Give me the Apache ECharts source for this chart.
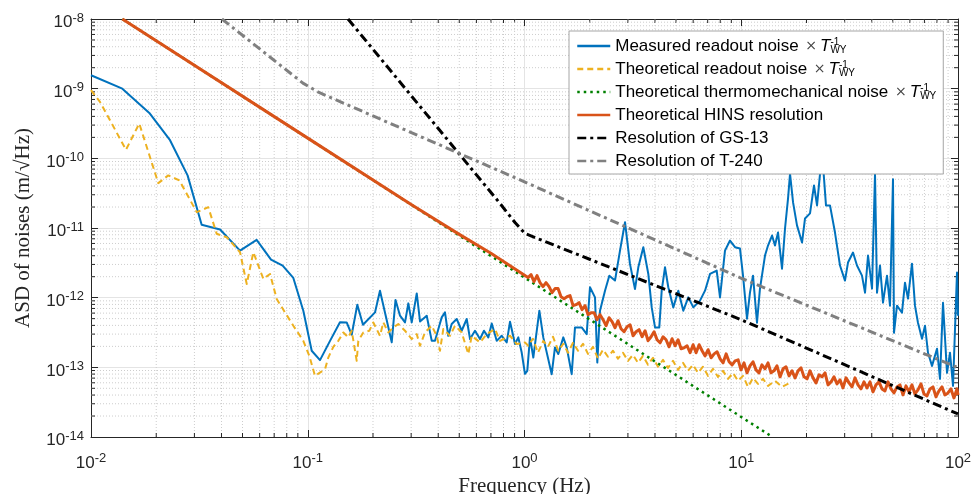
<!DOCTYPE html>
<html>
<head>
<meta charset="utf-8">
<script src="https://cdn.jsdelivr.net/npm/echarts@6.0.0/dist/echarts.min.js"></script>
<style>
  html, body { margin: 0; padding: 0; background: #fff; }
  #chart { width: 973px; height: 494px; }
</style>
</head>
<body>
<div id="chart"></div>
<script>
// axis ranges (log10 decades)
var X_MIN = 0.01, X_MAX = 100;
var Y_MIN = 1e-14, Y_MAX = 1e-8;
var xDecades = [-2, -1, 0, 1];
var yDecades = [-14, -13, -12, -11, -10, -9];
var minorSteps = [2, 3, 4, 5, 6, 7, 8, 9];

// [frequency (Hz), ASD (m/sqrt(Hz))]
var measuredNoise = [
  [0.01,1.56e-9],[0.01395,1.0e-9],[0.01858,4.49e-10],[0.02315,1.82e-10],[0.0279,5.69e-11],[0.0324,1.11e-11],
  [0.0394,9.5e-12],[0.0487,4.74e-12],[0.0581,6.76e-12],[0.0677,3.52e-12],[0.0766,2.88e-12],[0.0858,1.92e-12],
  [0.0954,6.5e-13],[0.1043,1.73e-13],[0.1139,1.27e-13],[0.1267,2.4e-13],[0.1408,4.44e-13],[0.1512,4.41e-13],
  [0.1595,2.94e-13],[0.1693,7.93e-13],[0.1798,4.09e-13],[0.2043,6.14e-13],[0.2154,1.26e-12],[0.2313,4.78e-13],
  [0.244,2.28e-13],[0.2541,9.27e-13],[0.2665,5.51e-13],[0.281,4.41e-13],[0.2911,8.28e-13],[0.3018,4.41e-13],
  [0.3183,1.15e-12],[0.3296,4.56e-13],[0.3539,5.51e-13],[0.3733,2.4e-13],[0.3865,2.4e-13],[0.4045,3.95e-13],
  [0.415,5.21e-13],[0.4297,6.14e-13],[0.445,2.84e-13],[0.4614,4.19e-13],[0.4866,4.94e-13],[0.5131,3.35e-13],
  [0.5412,4.94e-13],[0.5607,2.55e-13],[0.5911,3.35e-13],[0.6233,2.55e-13],[0.6503,3.35e-13],[0.6808,2.69e-13],
  [0.7061,4.27e-13],[0.7444,2.4e-13],[0.785,2.84e-13],[0.8278,2.28e-13],[0.8574,4.52e-13],[0.9042,2.16e-13],
  [0.9364,2.69e-13],[0.9707,1.63e-13],[1.005,8.06e-14],[1.03,8.9e-14],[1.06,2.69e-13],[1.098,1.38e-13],
  [1.171,6.5e-13],[1.221,2.69e-13],[1.335,7.98e-14],[1.382,1.93e-13],[1.432,1.55e-13],[1.51,2.69e-13],
  [1.566,1.93e-13],[1.651,7.98e-14],[1.71,3.74e-13],[1.836,3.74e-13],[1.936,3.0e-13],[2.005,1.41e-12],
  [2.115,1.01e-12],[2.167,1.17e-13],[2.23,6.5e-13],[2.352,1.26e-12],[2.462,2.07e-12],[2.615,1.76e-12],
  [2.758,4.74e-12],[2.909,1.21e-11],[3.066,3.05e-12],[3.234,1.33e-12],[3.35,2.73e-12],[3.533,5.3e-12],
  [3.726,2.19e-12],[3.863,7.25e-13],[4.001,3.74e-13],[4.187,3.74e-13],[4.295,1.26e-12],[4.448,2.73e-12],
  [4.607,1.41e-12],[4.859,7.25e-13],[5.124,1.26e-12],[5.404,6.5e-13],[5.699,1.01e-12],[6.01,7.25e-13],
  [6.452,9.06e-13],[6.805,1.26e-12],[7.176,2.19e-12],[7.703,2.45e-12],[7.98,1.01e-12],[8.414,4.74e-12],
  [8.873,6.61e-12],[9.359,5.3e-12],[9.867,5.07e-12],[10.19,2.07e-12],[10.63,4.99e-13],[10.97,1.18e-12],
  [11.33,2.07e-12],[11.82,4.37e-13],[12.2,1.35e-12],[12.87,4.02e-12],[13.29,5.6e-12],[13.87,7.8e-12],
  [14.31,5.6e-12],[14.78,8.61e-12],[15.42,2.61e-12],[15.92,9.84e-12],[16.44,2.66e-11],[16.79,6e-11],
  [17.34,2.33e-11],[18.08,1.09e-11],[19.07,6.18e-12],[19.69,1.37e-11],[20.76,1.62e-11],[21.66,4.09e-11],
  [22.37,2.11e-11],[23.09,6e-11],[23.84,8e-11],[24.6,2.11e-11],[25.67,2.11e-11],[27.07,8.61e-12],
  [28.55,2.89e-12],[30.1,1.76e-12],[31.08,3.19e-12],[32.78,4.44e-12],[34.2,2.89e-12],[36.06,2.07e-12],
  [37.24,1.18e-12],[38.45,4.02e-12],[40.12,1.35e-12],[41.41,6e-11],[42.3,1.18e-12],[43.67,2.89e-12],
  [45.08,8.47e-13],[47.03,2.07e-12],[48.56,7.67e-13],[50.13,5e-11],[50.66,3.13e-13],[52.31,7.67e-13],
  [55.16,6.08e-13],[56.94,1.64e-12],[58.78,9.67e-13],[61.33,3.08e-12],[63.32,7.67e-13],[65.36,4.37e-13],
  [68.22,2.57e-13],[70.43,3.95e-13],[72.71,1.62e-13],[75.87,1.05e-13],[80.01,1.85e-13],[82.6,6.83e-14],
  [85.27,8.47e-13],[88.98,8.34e-14],[91.86,1.62e-13],[94.84,5.42e-14],[98.95,2.29e-12],[100,5.51e-13]
];

var theoryReadout = [
  [0.01,9.5e-10],[0.011,6.46e-10],[0.0145,1.33e-10],[0.0167,3.16e-10],[0.02044,4.41e-11],[0.02273,5.69e-11],
  [0.02556,4.82e-11],[0.03075,1.69e-11],[0.03476,1.99e-11],[0.038,8.26e-12],[0.04227,7.38e-12],[0.0487,4.49e-12],
  [0.0523,1.57e-12],[0.0561,4.49e-12],[0.0624,1.86e-12],[0.067,2.19e-12],[0.0719,9.58e-13],[0.0858,3.95e-13],
  [0.0954,2.4e-13],[0.1017,1.46e-13],[0.108,7.55e-14],[0.1202,9.42e-14],[0.1244,1.38e-13],[0.1312,1.97e-13],
  [0.1384,2.4e-13],[0.1459,3.17e-13],[0.1539,2.69e-13],[0.1595,3.35e-13],[0.1682,1.24e-13],[0.1711,2.4e-13],
  [0.1805,3.17e-13],[0.1923,3.35e-13],[0.2006,4.41e-13],[0.2154,2.84e-13],[0.2232,4.41e-13],[0.2353,3.17e-13],
  [0.2482,3.74e-13],[0.2617,4.19e-13],[0.281,3.35e-13],[0.3018,2.55e-13],[0.3183,3.0e-13],[0.3296,2.04e-13],
  [0.3475,3.17e-13],[0.3733,3.95e-13],[0.3935,2.84e-13],[0.4074,1.73e-13],[0.4221,3.55e-13],[0.4532,2.84e-13],
  [0.4779,3.95e-13],[0.5131,3.17e-13],[0.5505,1.55e-13],[0.5708,2.84e-13],[0.6233,2.28e-13],[0.6694,3.0e-13],
  [0.7308,3.55e-13],[0.7709,2.4e-13],[0.8574,2.84e-13],[0.9204,2.16e-13],[1.005,2.28e-13],
  [1.04,2.04e-13],[1.094,2.57e-13],[1.154,1.62e-13],[1.221,2.4e-13],[1.283,1.97e-13],[1.353,2.75e-13],
  [1.432,1.73e-13],[1.51,2.18e-13],[1.588,1.62e-13],[1.674,2.25e-13],[1.766,1.73e-13],[1.862,2.18e-13],
  [1.963,1.56e-13],[2.07,1.97e-13],[2.183,1.33e-13],[2.302,1.79e-13],[2.427,1.42e-13],[2.56,1.73e-13],
  [2.7,1.33e-13],[2.847,1.62e-13],[3.002,1.24e-13],[3.166,1.51e-13],[3.338,1.16e-13],[3.52,1.46e-13],
  [3.713,1.09e-13],[3.915,1.37e-13],[4.129,1.02e-13],[4.355,1.28e-13],[4.592,9.8e-14],[4.842,1.24e-13],
  [5.107,9.2e-14],[5.385,1.16e-13],[5.679,8.9e-14],[5.989,1.09e-13],[6.316,8.3e-14],[6.66,1.02e-13],
  [7.024,7.55e-14],[7.407,9.5e-14],[7.812,7.3e-14],[8.238,8.9e-14],[8.688,6.84e-14],[9.162,8.3e-14],
  [9.661,6.4e-14],[10.19,7.55e-14],[10.74,5.24e-14],[11.33,7.06e-14],[11.95,5.79e-14],[12.6,6.84e-14],
  [13.29,5.42e-14],[14.31,6.4e-14],[15.42,5.24e-14],[16.79,5.98e-14]
];

var thermoNoise = [[0.01395,1e-8],[14,9.9e-15]];

var hinsResolution = [
  [0.01395,1e-8],[0.1,1.95e-10],[0.3,2.17e-11],[0.5,8.1e-12],[0.7,4.35e-12],
  [1.038,1.94e-12],[1.072,2.14e-12],[1.106,1.70e-12],[1.142,2.07e-12],[1.179,1.64e-12],[1.217,1.44e-12],
  [1.257,1.64e-12],[1.298,1.44e-12],[1.34,1.18e-12],[1.383,1.35e-12],[1.428,1.35e-12],[1.474,1.03e-12],
  [1.522,9.68e-13],[1.571,1.03e-12],[1.622,1.07e-12],[1.675,7.68e-13],[1.729,7.94e-13],[1.785,8.48e-13],
  [1.843,6.73e-13],[1.903,7.68e-13],[1.964,5.70e-13],[2.028,6.09e-13],[2.094,6.09e-13],[2.161,4.83e-13],
  [2.231,5.70e-13],[2.304,4.83e-13],[2.378,3.96e-13],[2.455,5.16e-13],[2.535,4.52e-13],[2.617,3.70e-13],
  [2.702,4.67e-13],[2.789,3.58e-13],[2.88,3.24e-13],[2.973,3.83e-13],[3.069,4.09e-13],[3.169,2.84e-13],
  [3.271,3.24e-13],[3.377,3.47e-13],[3.487,2.75e-13],[3.6,3.35e-13],[3.716,2.41e-13],[3.837,2.75e-13],
  [3.961,3.24e-13],[4.089,2.49e-13],[4.222,2.25e-13],[4.359,2.75e-13],[4.5,2.49e-13],[4.646,1.97e-13],
  [4.796,2.57e-13],[4.952,2.04e-13],[5.112,2.49e-13],[5.278,1.85e-13],[5.449,1.91e-13],[5.625,2.04e-13],
  [5.808,1.62e-13],[5.996,2.11e-13],[6.19,1.62e-13],[6.391,2.11e-13],[6.598,1.73e-13],[6.811,1.46e-13],
  [7.032,1.79e-13],[7.26,1.37e-13],[7.495,1.56e-13],[7.738,1.67e-13],[7.989,1.325e-13],[8.247,1.161e-13],
  [8.515,1.56e-13],[8.79,1.2e-13],[9.075,1.086e-13],[9.369,1.24e-13],[9.673,1.282e-13],
  [9.974,9.2e-14],[10.3,1.161e-13],[10.63,8.33e-14],[10.97,1.051e-13],[11.33,1.2e-13],[11.7,9.2e-14],
  [12.08,8.33e-14],[12.46,1.086e-13],[12.87,9.51e-14],[13.29,1.161e-13],[13.72,8.33e-14],[14.16,8.9e-14],
  [14.62,1.051e-13],[15.1,7.3e-14],[15.59,9.51e-14],[16.09,1.017e-13],[16.61,7.54e-14],[17.15,8.9e-14],
  [17.71,7.06e-14],[18.28,8.9e-14],[18.87,9.83e-14],[19.48,7.3e-14],[20.11,6.83e-14],[20.76,8.9e-14],
  [21.44,7.06e-14],[22.13,5.98e-14],[22.85,7.8e-14],[23.58,7.3e-14],[24.35,8.33e-14],[25.14,5.6e-14],
  [25.95,6.18e-14],[26.79,7.3e-14],[27.66,5.79e-14],[28.55,6.61e-14],[29.48,5.07e-14],[30.43,7.06e-14],
  [31.42,5.98e-14],[32.43,5.24e-14],[33.48,7.06e-14],[34.56,5.6e-14],[35.68,4.9e-14],[36.84,6.18e-14],
  [38.03,5.07e-14],[39.26,6.18e-14],[40.53,4.44e-14],[41.84,5.6e-14],[43.2,6.18e-14],[44.6,4.9e-14],
  [46.04,4.59e-14],[47.53,6.18e-14],[49.07,4.9e-14],[50.66,4.29e-14],[52.3,5.24e-14],[53.99,5.6e-14],
  [55.74,4.02e-14],[57.54,5.42e-14],[59.41,4.44e-14],[61.33,5.6e-14],[63.31,4.15e-14],[65.36,4.74e-14],
  [67.48,5.79e-14],[69.66,4.15e-14],[71.92,3.89e-14],[74.25,4.9e-14],[76.65,5.24e-14],[79.13,3.76e-14],
  [81.69,4.59e-14],[84.34,5.24e-14],[87.07,4.02e-14],[89.89,4.29e-14],[92.8,4.9e-14],[95.8,3.64e-14],
  [98.9,4.9e-14],[100,4.02e-14]
];

var gs13Resolution = [[0.1534,1e-8],[0.771,2.25e-11],[0.904,1.2e-11],[1.005,8.34e-12],[10,4.82e-13],[100,2.14e-14]];
var t240Resolution = [[0.0402,1e-8],[0.095,1.2e-9],[0.112,8.9e-10],[1,4.6e-11],[10,1.9e-12],[100,9.9e-14]];

var seriesNames = [
  'Measured readout noise',
  'Theoretical readout noise',
  'Theoretical thermomechanical noise',
  'Theoretical HINS resolution',
  'Resolution of GS-13',
  'Resolution of T-240'
];
var scaledNames = seriesNames.slice(0, 3);

var minorX = [], minorY = [];
xDecades.forEach(function(p) {
  minorSteps.forEach(function(m) { minorX.push([m * Math.pow(10, p), Y_MIN]); });
});
yDecades.forEach(function(p) {
  minorSteps.forEach(function(m) { minorY.push([X_MIN, m * Math.pow(10, p)]); });
});

var AXIS_COLOR = '#262626';

function powLabel(v) {
  var p = Math.round(Math.log10(v));
  return '{b|10}{e|' + p + '}';
}

var labelRich = {
  b: { fontFamily: 'Liberation Sans', fontSize: 17, lineHeight: 22, color: AXIS_COLOR },
  e: { fontFamily: 'Liberation Sans', fontSize: 13, lineHeight: 12, verticalAlign: 'top', color: AXIS_COLOR }
};

function minorRender(vertical) {
  return function(params, api) {
    var a, b, t1, t2;
    if (vertical) {
      a = api.coord([api.value(0), Y_MIN]);
      b = api.coord([api.value(0), Y_MAX]);
      t1 = [a[0], a[1] - 4];
      t2 = [b[0], b[1] + 4];
    } else {
      a = api.coord([X_MIN, api.value(1)]);
      b = api.coord([X_MAX, api.value(1)]);
      t1 = [a[0] + 4, a[1]];
      t2 = [b[0] - 4, b[1]];
    }
    return {
      type: 'group',
      children: [
        { type: 'line', shape: { x1: a[0], y1: a[1], x2: b[0], y2: b[1] },
          style: { stroke: '#cdcdcd', lineWidth: 1, lineDash: [1, 2] } },
        { type: 'line', shape: { x1: a[0], y1: a[1], x2: t1[0], y2: t1[1] },
          style: { stroke: AXIS_COLOR, lineWidth: 1 } },
        { type: 'line', shape: { x1: b[0], y1: b[1], x2: t2[0], y2: t2[1] },
          style: { stroke: AXIS_COLOR, lineWidth: 1 } }
      ]
    };
  };
}

function lineSeries(name, data, color, width, type, z) {
  return {
    name: name,
    type: 'line',
    data: data,
    symbol: 'none',
    showSymbol: false,
    z: z,
    lineStyle: { color: color, width: width, type: type, cap: 'butt', join: 'round' },
    itemStyle: { color: color },
    emphasis: { disabled: true }
  };
}

var chart = echarts.init(document.getElementById('chart'), null, { renderer: 'canvas' });

var baseAxis = {
  type: 'log',
  logBase: 10,
  interval: 1,
  axisLine: { show: true, onZero: false, lineStyle: { color: AXIS_COLOR, width: 1 } },
  axisTick: { show: true, inside: true, length: 7, lineStyle: { color: AXIS_COLOR } },
  splitLine: { show: false },
  axisLabel: { show: false }
};

var titleStyle = { fontFamily: 'Liberation Serif', fontSize: 21, color: AXIS_COLOR };

var option = {
  animation: false,
  backgroundColor: '#fff',
  grid: { left: 91, right: 15, top: 19, bottom: 57, containLabel: false, outerBoundsMode: 'none' },
  xAxis: [
    Object.assign({}, baseAxis, {
      position: 'bottom', min: X_MIN, max: X_MAX,
      name: 'Frequency (Hz)', nameLocation: 'middle', nameGap: 33, nameTextStyle: titleStyle,
      splitLine: { show: true, lineStyle: { color: '#e4e4e4', width: 1 } },
      axisLabel: { show: true, margin: 15, formatter: powLabel, rich: labelRich }
    }),
    Object.assign({}, baseAxis, { position: 'top', min: X_MIN, max: X_MAX })
  ],
  yAxis: [
    Object.assign({}, baseAxis, {
      position: 'left', min: Y_MIN, max: Y_MAX,
      name: 'ASD of noises (m/\u221AHz)', nameLocation: 'middle', nameGap: 57, nameTextStyle: titleStyle,
      splitLine: { show: true, lineStyle: { color: '#e4e4e4', width: 1 } },
      axisLabel: { show: true, margin: 7, padding: [7, 0, 0, 0], formatter: powLabel, rich: labelRich }
    }),
    Object.assign({}, baseAxis, { position: 'right', min: Y_MIN, max: Y_MAX })
  ],
  legend: {
    orient: 'vertical',
    left: 569,
    top: 31,
    padding: [6, 7, 4, 7],
    itemGap: 5,
    itemWidth: 33,
    itemHeight: 14,
    selectedMode: false,
    backgroundColor: '#fff',
    borderColor: '#a6a6a6',
    borderWidth: 1,
    data: seriesNames.map(function(n) {
      return { name: n, lineStyle: { width: 2.5 }, itemStyle: { opacity: 0 } };
    }),
    formatter: function(name) {
      if (scaledNames.indexOf(name) >= 0) {
        return name + ' {m|\u00D7}{t|T}{p|-1}{s|WY}';
      }
      return name;
    },
    textStyle: {
      fontFamily: 'Liberation Sans', fontSize: 17, lineHeight: 18, color: '#000',
      rich: {
        m: { fontFamily: 'DejaVu Sans', fontSize: 14, lineHeight: 18, color: '#444', padding: [0, 3, 0, 2] },
        t: { fontFamily: 'Liberation Sans', fontSize: 17, fontStyle: 'italic', lineHeight: 18, color: '#000' },
        p: { fontFamily: 'Liberation Sans', fontSize: 10, lineHeight: 10, width: 0, verticalAlign: 'top', color: '#000' },
        s: { fontFamily: 'Liberation Sans', fontSize: 10, lineHeight: 10, verticalAlign: 'bottom', color: '#000' }
      }
    }
  },
  series: [
    {
      type: 'custom', name: 'minorX', silent: true, z: 1, clip: false,
      renderItem: minorRender(true), data: minorX, encode: { x: 0, y: 1 }
    },
    {
      type: 'custom', name: 'minorY', silent: true, z: 1, clip: false,
      renderItem: minorRender(false), data: minorY, encode: { x: 0, y: 1 }
    },
    lineSeries(seriesNames[0], measuredNoise, '#0072BD', 2, 'solid', 3),
    lineSeries(seriesNames[1], theoryReadout, '#EDB120', 2, [6, 4], 4),
    lineSeries(seriesNames[2], thermoNoise, '#008000', 2.5, [2.5, 4], 5),
    lineSeries(seriesNames[3], hinsResolution, '#D95319', 3, 'solid', 6),
    lineSeries(seriesNames[4], gs13Resolution, '#000000', 3, [9, 4, 3, 4], 7),
    lineSeries(seriesNames[5], t240Resolution, '#808080', 3, [9, 4, 3, 4], 8)
  ]
};

chart.setOption(option);
</script>
</body>
</html>
